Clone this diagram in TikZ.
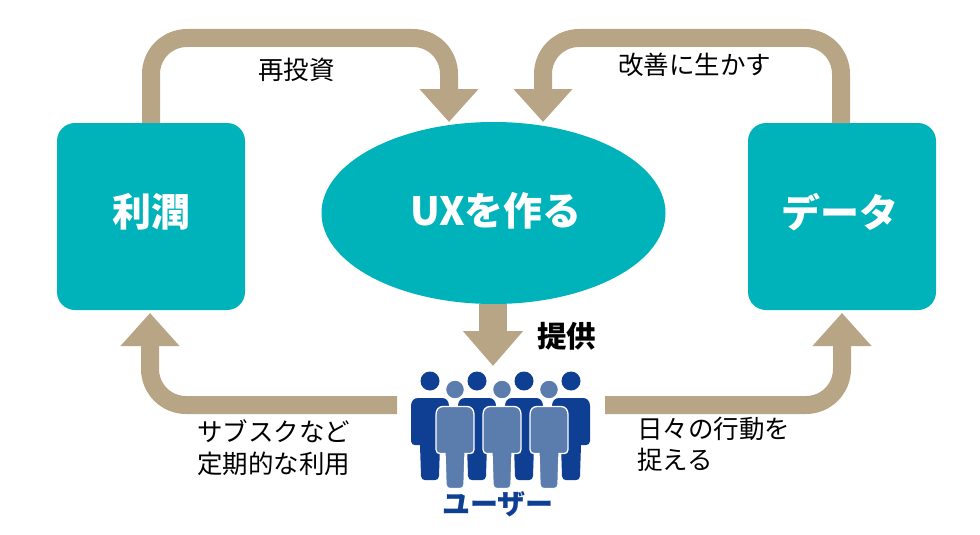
\documentclass[tikz,border=0pt]{standalone}
\usepackage{fontspec}
\setmainfont{Noto Sans CJK JP}
\usetikzlibrary{arrows.meta,shapes.geometric}
\definecolor{teal}{HTML}{00B2BA}
\definecolor{tan}{HTML}{B8A585}
\definecolor{dblue}{HTML}{0F3F93}
\definecolor{lblue}{HTML}{5B7DAE}
\newcommand{\fs}[1]{\fontsize{#1}{#1}\selectfont}
\tikzset{
  panel/.style={fill=teal,draw=none,rounded corners=18pt,minimum width=188pt,minimum height=187pt,inner sep=0pt},
  hub/.style={ellipse,fill=teal,draw=none,minimum width=344pt,minimum height=182pt,inner sep=0pt},
  title/.style={text=white,font=\fs{39}\bfseries,inner sep=0pt},
  flow/.style={draw=tan,line width=18pt,rounded corners=36pt,-{Triangle[length=33pt,width=57pt]}},
  feed/.style={draw=tan,line width=28pt,-{Triangle[length=35pt,width=58pt]}},
  lab/.style={font=\fs{25.5},text=black,inner sep=0pt,align=left},
  person/.pic={
    \fill[pic actions] (0,-17) circle (9.5);
    \path[pic actions] (-12,0) .. controls (-16,0) and (-19,3) .. (-19,8) -- (-19,43)
      .. controls (-19,46) and (-17,47) .. (-15,47) -- (-10,47) -- (-9,78)
      .. controls (-9,81) and (-7,82) .. (-5,82) -- (5,82)
      .. controls (7,82) and (9,81) .. (9,78) -- (10,47) -- (15,47)
      .. controls (17,47) and (19,46) .. (19,43) -- (19,8)
      .. controls (19,3) and (16,0) .. (12,0) -- cycle;
  },
  back/.style={fill=dblue,draw=none},
  front/.style={fill=lblue,draw=white,line width=1.3pt},
}
\begin{document}
\begin{tikzpicture}[x=1pt,y=-1pt]
\useasboundingbox (0,0) rectangle (980,535);
\node[panel] (profit) at (151,216.5) {};
\node[panel] (data) at (842,216.5) {};
\node[hub] (ux) at (493.5,213) {};
\node[title] (tProfit) at (151.5,212) {利潤};
\node[title] (tData) at (840,212) {データ};
\node[title] (tUx) at (496,211) {UXを作る};
\coordinate (reinvestIn) at (449,122);
\coordinate (improveIn) at (543,122);
\coordinate (dataOut) at (841,123);
\coordinate (uxOut) at (493,304);
\coordinate (usersIn) at (493,366);
\coordinate (usersL) at (397,405);
\coordinate (usersR) at (605,405);
\coordinate (profitIn) at (150,313);
\coordinate (dataIn) at (842,313);
\draw[flow] (profit.north) -- (151,38) -- (449,38) -- (reinvestIn);
\draw[flow] (dataOut) -- (841,38) -- (543,38) -- (improveIn);
\draw[flow] (usersL) -- (150,405) -- (profitIn);
\draw[flow] (usersR) -- (842,405) -- (dataIn);
\draw[feed] (uxOut) -- (usersIn);
\node[lab,anchor=center] (tReinvest) at (296.5,70) {再投資};
\node[lab,anchor=center] (tImprove) at (694.5,65) {改善に生かす};
\node[font=\fs{29.5}\bfseries,inner sep=0pt] (tProvide) at (566.5,336) {提供};
\node[lab,anchor=west] (tSub) at (197,450.5) {\begin{tabular}{@{}l@{}}サブスクなど\\[3pt]定期的な利用\end{tabular}};
\node[lab,anchor=west] (tDaily) at (637,447) {\begin{tabular}{@{}l@{}}日々の行動を\\[2pt]捉える\end{tabular}};
\foreach \px in {430,477,524,571} \pic[back] at (\px,398) {person};
\foreach \px in {455,502,549} \pic[front] at (\px,406.5) {person};
\node[font=\fs{28}\bfseries,text=dblue,inner sep=0pt] (tUsers) at (498,504) {ユーザー};
\end{tikzpicture}
\end{document}
